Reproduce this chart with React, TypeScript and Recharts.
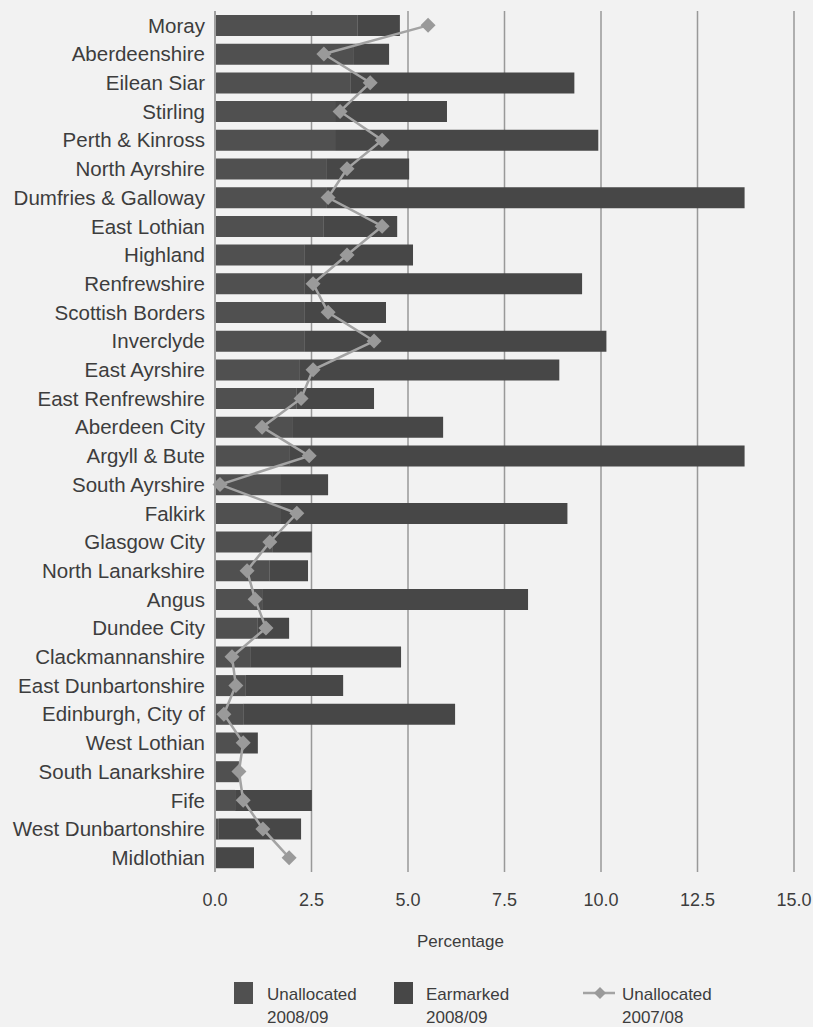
import React from "react";
import {
  ComposedChart,
  Bar,
  Line,
  XAxis,
  YAxis,
  CartesianGrid,
  Legend,
} from "recharts";

// Council areas, top to bottom
const councils = [
  "Moray",
  "Aberdeenshire",
  "Eilean Siar",
  "Stirling",
  "Perth & Kinross",
  "North Ayrshire",
  "Dumfries & Galloway",
  "East Lothian",
  "Highland",
  "Renfrewshire",
  "Scottish Borders",
  "Inverclyde",
  "East Ayrshire",
  "East Renfrewshire",
  "Aberdeen City",
  "Argyll & Bute",
  "South Ayrshire",
  "Falkirk",
  "Glasgow City",
  "North Lanarkshire",
  "Angus",
  "Dundee City",
  "Clackmannanshire",
  "East Dunbartonshire",
  "Edinburgh, City of",
  "West Lothian",
  "South Lanarkshire",
  "Fife",
  "West Dunbartonshire",
  "Midlothian",
];

// Unallocated reserves 2008/09 (% of net expenditure)
const unallocated0809 = [
  3.7, 3.6, 3.52, 3.11, 3.11, 2.9, 2.9, 2.82, 2.31, 2.31, 2.31, 2.31, 2.2, 2.12,
  2.02, 1.92, 1.71, 1.71, 1.5, 1.42, 1.22, 1.11, 0.91, 0.8, 0.73, 0.7, 0.62,
  0.52, 0.1, 0,
];

// Earmarked reserves 2008/09 (% of net expenditure)
const earmarked0809 = [
  1.09, 0.91, 5.79, 2.9, 6.82, 2.13, 10.82, 1.9, 2.82, 7.2, 2.12, 7.83, 6.72,
  2.0, 3.89, 11.8, 1.22, 7.42, 1.01, 0.99, 6.89, 0.81, 3.91, 2.52, 5.49, 0.41,
  0, 1.99, 2.13, 1.01,
];

// Unallocated reserves 2007/08 (% of net expenditure)
const unallocated0708 = [
  5.52, 2.82, 4.02, 3.24, 4.33, 3.42, 2.93, 4.33, 3.42, 2.54, 2.93, 4.12, 2.54,
  2.23, 1.22, 2.44, 0.13, 2.12, 1.42, 0.83, 1.04, 1.32, 0.44, 0.54, 0.23, 0.73,
  0.62, 0.73, 1.24, 1.92,
];

const xTicks = [0, 2.5, 5, 7.5, 10, 12.5, 15];

const data = councils.map((name, i) => ({
  name,
  unalloc: unallocated0809[i],
  earmarked: earmarked0809[i],
  prior: unallocated0708[i],
}));

const FONT = "'Liberation Sans', Arial, Helvetica, sans-serif";
const TEXT = "#3d3d3d";
const UNALLOC_FILL = "#505050";
const EARMARK_FILL = "#474747";
const LINE_GREY = "#a3a3a3";
const DOT_GREY = "#9a9a9a";

const Diamond = (props: any) => {
  const { cx, cy } = props;
  if (cx == null || cy == null) return null;
  const r = 7.5;
  return (
    <polygon
      points={`${cx},${cy - r} ${cx + r},${cy} ${cx},${cy + r} ${cx - r},${cy}`}
      fill={DOT_GREY}
    />
  );
};

const LegendContent = () => {
  const textStyle: React.CSSProperties = {
    fontFamily: FONT,
    fontSize: 17,
    color: TEXT,
    lineHeight: "23px",
    marginTop: 6,
  };
  const square = (fill: string) => (
    <div style={{ width: 19, height: 22, background: fill, marginTop: 5 }} />
  );
  return (
    <div style={{ position: "relative", height: 50 }}>
      <div style={{ position: "absolute", left: 234, top: 0, display: "flex" }}>
        {square(UNALLOC_FILL)}
        <div style={{ ...textStyle, marginLeft: 14 }}>
          Unallocated
          <br />
          2008/09
        </div>
      </div>
      <div style={{ position: "absolute", left: 394, top: 0, display: "flex" }}>
        {square(EARMARK_FILL)}
        <div style={{ ...textStyle, marginLeft: 13 }}>
          Earmarked
          <br />
          2008/09
        </div>
      </div>
      <div style={{ position: "absolute", left: 583, top: 0, display: "flex" }}>
        <svg width={34} height={30} style={{ marginTop: 2 }}>
          <line x1={0} y1={14} x2={32} y2={14} stroke={LINE_GREY} strokeWidth={2.5} />
          <polygon points="17,8 23,14 17,20 11,14" fill={DOT_GREY} />
        </svg>
        <div style={{ ...textStyle, marginLeft: 5 }}>
          Unallocated
          <br />
          2007/08
        </div>
      </div>
    </div>
  );
};

const AxisTitle = (props: any) => {
  const vb = props.viewBox || {};
  return (
    <text
      x={vb.x + vb.width / 2 - 44}
      y={vb.y + 75}
      textAnchor="middle"
      fontFamily={FONT}
      fontSize={17}
      fill={TEXT}
    >
      Percentage
    </text>
  );
};

export default function App() {
  return (
    <div
      style={{
        position: "absolute",
        left: 0,
        top: 0,
        width: 813,
        height: 1027,
        background: "#f2f2f2",
      }}
    >
      <ComposedChart
        width={813}
        height={1027}
        data={data}
        layout="vertical"
        margin={{ top: 11, right: 19, bottom: 75, left: 0 }}
        barSize={21}
      >
        <CartesianGrid
          horizontal={false}
          vertical={true}
          stroke="#999999"
          strokeWidth={1.5}
        />
        <XAxis
          type="number"
          domain={[0, 15]}
          ticks={xTicks}
          tickFormatter={(v: number) => v.toFixed(1)}
          axisLine={false}
          tickLine={false}
          tickMargin={15}
          height={30}
          tick={{ fontFamily: FONT, fontSize: 18, fill: TEXT }}
          label={<AxisTitle />}
        />
        <YAxis
          type="category"
          dataKey="name"
          width={215}
          interval={0}
          tickLine={false}
          tickMargin={4}
          axisLine={{ stroke: "#a0a0a0", strokeWidth: 2 }}
          tick={{ fontFamily: FONT, fontSize: 20.5, fill: TEXT }}
        />
        <Bar
          dataKey="unalloc"
          stackId="reserves"
          fill={UNALLOC_FILL}
          isAnimationActive={false}
        />
        <Bar
          dataKey="earmarked"
          stackId="reserves"
          fill={EARMARK_FILL}
          isAnimationActive={false}
        />
        <Line
          dataKey="prior"
          stroke={LINE_GREY}
          strokeWidth={2.5}
          dot={<Diamond />}
          activeDot={false}
          isAnimationActive={false}
        />
        <Legend
          verticalAlign="bottom"
          content={<LegendContent />}
          wrapperStyle={{ left: 0, width: 813, bottom: 0 }}
        />
      </ComposedChart>
    </div>
  );
}
